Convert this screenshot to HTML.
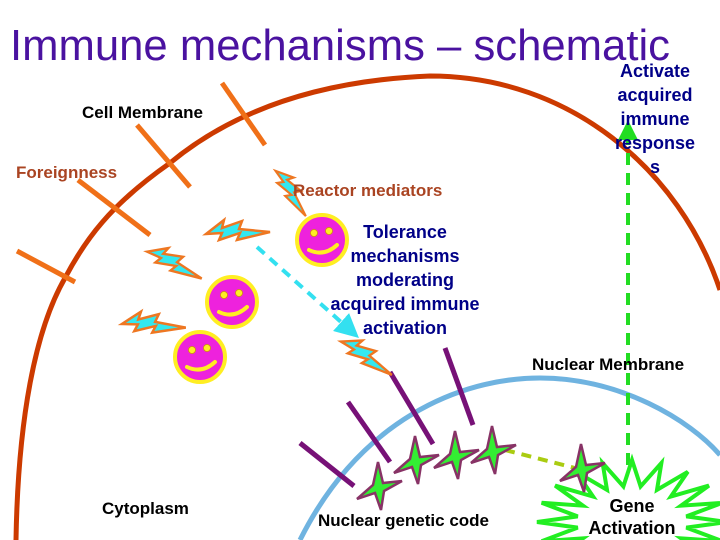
<!DOCTYPE html>
<html><head><meta charset="utf-8"><style>
html,body{margin:0;padding:0;background:#fff;width:720px;height:540px;overflow:hidden;}
svg{display:block;}
text{font-family:"Liberation Sans",sans-serif;}
</style></head><body>
<svg id="s" width="720" height="540" viewBox="0 0 720 540" xmlns="http://www.w3.org/2000/svg">
<defs>
<marker id="ac" markerWidth="6" markerHeight="6" refX="3" refY="3" orient="auto" markerUnits="strokeWidth"><path d="M0,0 L6,3 L0,6 z" fill="#33e0f0"/></marker>
<marker id="ag" markerWidth="5" markerHeight="5" refX="2.5" refY="2.5" orient="auto" markerUnits="strokeWidth"><path d="M0,0 L5,2.5 L0,5 z" fill="#22dd22"/></marker>
<g id="bolt"><polygon points="0,2 18,-12 16,-4 36,-11 33,-3 64,0 31,8 34,1 13,8 16,1" fill="#33e8f0" stroke="#ee7722" stroke-width="2.5" stroke-linejoin="miter"/></g>
<g id="smile"><circle r="25" fill="#ee22dd" stroke="#ffee22" stroke-width="4"/><circle cx="-8" cy="-7" r="3.5" fill="#ffee22" stroke="#cc9900" stroke-width="0.8"/><circle cx="7" cy="-9" r="3.5" fill="#ffee22" stroke="#cc9900" stroke-width="0.8"/><path d="M-13,10 Q2,17 15,5" fill="none" stroke="#ffee22" stroke-width="4" stroke-linecap="round"/></g>
<g id="star"><polygon points="0,-26 5,-5 24,-7 6,3 3,22 -3,5 -21,11 -5,-3" fill="#33ee33" stroke="#883366" stroke-width="2.5"/></g>
</defs>
<path d="M16,540 C18,420 35,330 65,278 C85,240 110,205 170,163 C240,105 330,80 430,76 C570,76 680,170 720,290" fill="none" stroke="#cc3a00" stroke-width="5"/>
<path d="M300,540 C360,420 460,378 540,378 C620,378 690,420 720,455" fill="none" stroke="#6fb3e0" stroke-width="5"/>
<g stroke="#f07018" stroke-width="5">
<line x1="222" y1="83" x2="265" y2="145"/><line x1="137" y1="125" x2="190" y2="187"/><line x1="78" y1="180" x2="150" y2="235"/><line x1="17" y1="251" x2="75" y2="282"/>
</g>
<g stroke="#771177" stroke-width="5">
<line x1="300" y1="443" x2="354" y2="486"/><line x1="348" y1="402" x2="390" y2="462"/><line x1="390" y1="372" x2="433" y2="444"/><line x1="445" y1="348" x2="473" y2="425"/>
</g>
<use href="#bolt" transform="translate(277,170) rotate(58) scale(0.85)"/>
<use href="#bolt" transform="translate(206,232)"/>
<use href="#bolt" transform="translate(148,250) rotate(28) scale(0.95)"/>
<use href="#bolt" transform="translate(122,322) rotate(5)"/>
<use href="#bolt" transform="translate(342,340) rotate(35) scale(0.95)"/>
<use href="#smile" transform="translate(322,240)"/>
<use href="#smile" transform="translate(232,302)"/>
<use href="#smile" transform="translate(200,357)"/>
<line x1="257" y1="247" x2="350" y2="330" stroke="#33e0f0" stroke-width="4" stroke-dasharray="10,7" marker-end="url(#ac)"/>
<line x1="628" y1="485" x2="628" y2="130" stroke="#22dd22" stroke-width="4" stroke-dasharray="12,8" marker-end="url(#ag)"/>
<line x1="505" y1="450" x2="575" y2="468" stroke="#aacc11" stroke-width="4" stroke-dasharray="10,7"/>
<polygon id="burst" fill="#fff" stroke="#22ee22" stroke-width="4"/>
<use href="#star" transform="translate(378,488)"/>
<use href="#star" transform="translate(415,462)"/>
<use href="#star" transform="translate(455,457)"/>
<use href="#star" transform="translate(492,452)"/>
<use href="#star" transform="translate(581,470)"/>
<text x="10" y="60" font-size="44" fill="#4a12a0" textLength="660" lengthAdjust="spacingAndGlyphs">Immune mechanisms – schematic</text>
<g font-size="18" fill="#000088" font-weight="bold" text-anchor="middle">
<text x="655" y="77">Activate</text><text x="655" y="101">acquired</text><text x="655" y="125">immune</text><text x="655" y="149">response</text><text x="655" y="173">s</text>
<text x="405" y="238">Tolerance</text><text x="405" y="262">mechanisms</text><text x="405" y="286">moderating</text><text x="405" y="310">acquired immune</text><text x="405" y="334">activation</text>
</g>
<g font-size="17" font-weight="bold">
<text x="82" y="118" fill="#000">Cell Membrane</text>
<text x="16" y="178" fill="#aa4422">Foreignness</text>
<text x="293" y="196" fill="#aa4422">Reactor mediators</text>
<text x="532" y="370" fill="#000">Nuclear Membrane</text>
<text x="102" y="514" fill="#000">Cytoplasm</text>
<text x="318" y="526" fill="#000">Nuclear genetic code</text>
<text x="632" y="512" fill="#000" text-anchor="middle" font-size="18">Gene</text>
<text x="632" y="534" fill="#000" text-anchor="middle" font-size="18">Activation</text>
</g>
</svg>
<script>
var p=[],cx=632,cy=522,n=20;
for(var i=0;i<n*2;i++){var a=Math.PI*i/n-Math.PI/2;var o=i%2==0;var rx=o?95:55,ry=o?62:36;p.push((cx+rx*Math.cos(a)).toFixed(1)+','+(cy+ry*Math.sin(a)).toFixed(1));}
document.getElementById('burst').setAttribute('points',p.join(' '));
</script>
</body></html>
